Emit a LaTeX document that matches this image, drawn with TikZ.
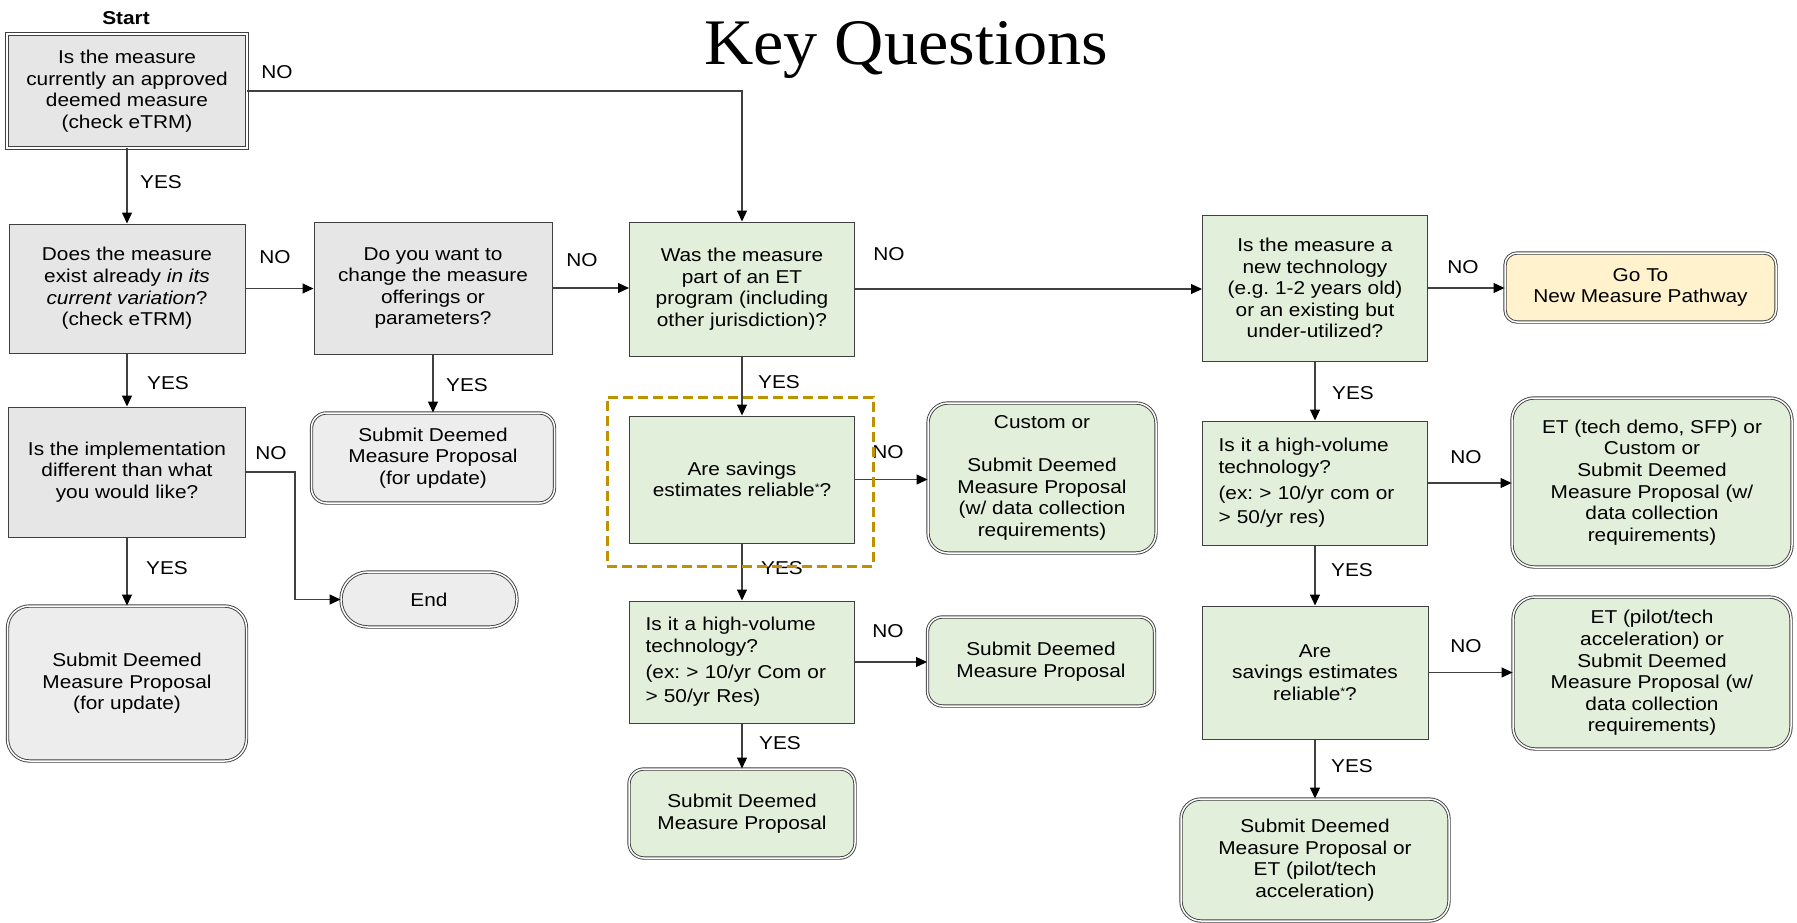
\documentclass[tikz,border=0pt]{standalone}
\usepackage{fontspec}
\setmainfont{Liberation Sans}[FakeStretch=1.12]
\newfontfamily\titlefont{Liberation Serif}[FakeStretch=1.05]
\usetikzlibrary{arrows.meta}
\definecolor{qgray}{HTML}{E6E6E6}
\definecolor{sgray}{HTML}{EDEDED}
\definecolor{qgreen}{HTML}{E2EFDA}
\definecolor{qyellow}{HTML}{FFF2CC}
\definecolor{edgec}{HTML}{404040}
\definecolor{goldc}{HTML}{BF9000}
\newcommand{\rstar}{\raisebox{0.55ex}{\fontsize{11}{11}\selectfont *}}
\frenchspacing
\begin{document}
\frenchspacing
\begin{tikzpicture}[x=1pt,y=-1pt,
  txt/.style={font=\fontsize{18.6}{21.6}\selectfont\frenchspacing, text=black},
  box/.style={txt, draw=edgec, line width=1pt, align=center, inner sep=2pt},
  qgraybox/.style={box, fill=qgray},
  qgreenbox/.style={box, fill=qgreen},
  dbl/.style={double=white, double distance=1.5pt, line width=0.9pt},
  leftbox/.style={align=left, text width=193pt, inner xsep=16pt},
  lbl/.style={txt, inner sep=0pt},
  conn/.style={draw=edgec, line width=1.1pt, -{Triangle[length=11pt,width=10pt,fill=black,color=black]}}
]
\useasboundingbox (0,0) rectangle (1797,923);

% title and start
\node[font=\titlefont\fontsize{65}{70}\selectfont, anchor=base, inner sep=0pt] (title) at (906,65) {Key Questions};
\node[txt, font=\bfseries\fontsize{18.6}{21.6}\selectfont, inner sep=0pt] (start) at (126,18) {Start};

% left gray column
\node[qgraybox, dbl, minimum width=240pt, minimum height=114pt] (q1) at (127,91) {Is the measure\\currently an approved\\deemed measure\\(check eTRM)};
\node[qgraybox, minimum width=236pt, minimum height=129pt] (q2) at (127,288.5) {Does the measure\\exist already \textit{in its}\\\textit{current variation}?\\(check eTRM)};
\node[qgraybox, minimum width=238pt, minimum height=132pt] (q3) at (433,288) {Do you want to\\change the measure\\offerings or\\parameters?};
\node[qgraybox, minimum width=237pt, minimum height=130pt] (q4) at (127,472) {Is the implementation\\different than what\\you would like?};
\node[box, dbl, fill=sgray, rounded corners=27pt, minimum width=176pt, minimum height=55pt] (end) at (429,599.5) {End};
\node[box, dbl, fill=sgray, rounded corners=22pt, minimum width=239pt, minimum height=155pt] (sub1) at (127,683.5) {Submit Deemed\\Measure Proposal\\(for update)};
\node[box, dbl, fill=sgray, rounded corners=15pt, minimum width=243pt, minimum height=90pt] (sub2) at (433,458) {Submit Deemed\\Measure Proposal\\(for update)};

% middle green column
\node[qgreenbox, minimum width=225pt, minimum height=134pt] (q5) at (742,289) {Was the measure\\part of an ET\\program (including\\other jurisdiction)?};
\node[qgreenbox, minimum width=225pt, minimum height=127pt] (q6) at (742,479.5) {Are savings\\estimates reliable\rstar?};
\node[qgreenbox, dbl, rounded corners=20pt, minimum width=228pt, minimum height=150pt] (cust) at (1042,478) {Custom or\\[21.6pt]Submit Deemed\\Measure Proposal\\(w/ data collection\\requirements)};
\node[qgreenbox, leftbox, minimum width=225pt, minimum height=122pt] (q7) at (742,662) {Is it a high-volume\\technology?\\[4pt](ex: > 10/yr Com or\\[3pt]> 50/yr Res)};
\node[qgreenbox, dbl, rounded corners=15pt, minimum width=227pt, minimum height=89pt] (sub3) at (1041,661.5) {Submit Deemed\\Measure Proposal};
\node[qgreenbox, dbl, rounded corners=15pt, minimum width=226pt, minimum height=89pt] (sub4) at (742,813.5) {Submit Deemed\\Measure Proposal};

% right green column
\node[qgreenbox, minimum width=225pt, minimum height=146pt] (q10) at (1315,288) {Is the measure a\\new technology\\(e.g. 1-2 years old)\\or an existing but\\under-utilized?};
\node[box, dbl, fill=qyellow, rounded corners=12pt, minimum width=271pt, minimum height=69pt] (goto) at (1640.5,287.5) {Go To\\New Measure Pathway};
\node[qgreenbox, leftbox, minimum width=225pt, minimum height=124pt] (q11) at (1315,483) {Is it a high-volume\\technology?\\[4pt](ex: > 10/yr com or\\[3pt]> 50/yr res)};
\node[qgreenbox, dbl, rounded corners=22pt, minimum width=280pt, minimum height=169pt] (et1) at (1652,482.5) {ET (tech demo, SFP) or\\Custom or\\Submit Deemed\\Measure Proposal (w/\\data collection\\requirements)};
\node[qgreenbox, minimum width=226pt, minimum height=133pt] (q12) at (1315,672.5) {Are\\savings estimates\\reliable\rstar?};
\node[qgreenbox, dbl, rounded corners=22pt, minimum width=278pt, minimum height=152pt] (et2) at (1652,673) {ET (pilot/tech\\acceleration) or\\Submit Deemed\\Measure Proposal (w/\\data collection\\requirements)};
\node[qgreenbox, dbl, rounded corners=20pt, minimum width=268pt, minimum height=122pt] (final) at (1315,860) {Submit Deemed\\Measure Proposal or\\ET (pilot/tech\\acceleration)};

% connectors
\draw[conn] (q1.east) -- (q1.east -| q5.north) -- (q5.north);
\draw[conn] (q1.south) -- (q2.north);
\draw[conn] (q2.east) -- (q2.east -| q3.west);
\draw[conn] (q3.east) -- (q3.east -| q5.west);
\draw[conn] (q3.south) -- (sub2.north);
\draw[conn] (q2.south) -- (q4.north);
\draw[conn] (q4.south) -- (sub1.north);
\draw[conn] (q4.east) -- ++(49pt,0) |- (end.west);
\draw[conn] (q5.east) -- (q5.east -| q10.west);
\draw[conn] (q5.south) -- (q6.north);
\draw[conn] (q6.east) -- (q6.east -| cust.west);
\draw[conn] (q6.south) -- (q7.north);
\draw[conn] (q7.east) -- (q7.east -| sub3.west);
\draw[conn] (q7.south) -- (sub4.north);
\draw[conn] (q10.east) -- (q10.east -| goto.west);
\draw[conn] (q10.south) -- (q11.north);
\draw[conn] (q11.east) -- (q11.east -| et1.west);
\draw[conn] (q11.south) -- (q12.north);
\draw[conn] (q12.east) -- (q12.east -| et2.west);
\draw[conn] (q12.south) -- (final.north);

% labels
\node[lbl] (n1) at (277,72) {NO};
\node[lbl] (y1) at (161,182) {YES};
\node[lbl] (n2) at (275,257) {NO};
\node[lbl] (y2) at (168,383) {YES};
\node[lbl] (n3) at (582,260) {NO};
\node[lbl] (y3) at (467,385) {YES};
\node[lbl] (n4) at (271,453) {NO};
\node[lbl] (y4) at (167,568) {YES};
\node[lbl] (n5) at (889,254) {NO};
\node[lbl] (y5) at (779,382) {YES};
\node[lbl] (n6) at (888,452) {NO};
\node[lbl] (y6) at (782,568) {YES};
\node[lbl] (n7) at (888,631) {NO};
\node[lbl] (y7) at (780,743) {YES};
\node[lbl] (n8) at (1463,267) {NO};
\node[lbl] (y8) at (1353,393) {YES};
\node[lbl] (n9) at (1466,457) {NO};
\node[lbl] (y9) at (1352,570) {YES};
\node[lbl] (n10) at (1466,646) {NO};
\node[lbl] (y10) at (1352,766) {YES};

% highlight
\node[draw=goldc, line width=3pt, dash pattern=on 10pt off 5pt, minimum width=266pt, minimum height=169pt, inner sep=0pt] (hl) at (740,481.5) {};
\end{tikzpicture}
\end{document}
